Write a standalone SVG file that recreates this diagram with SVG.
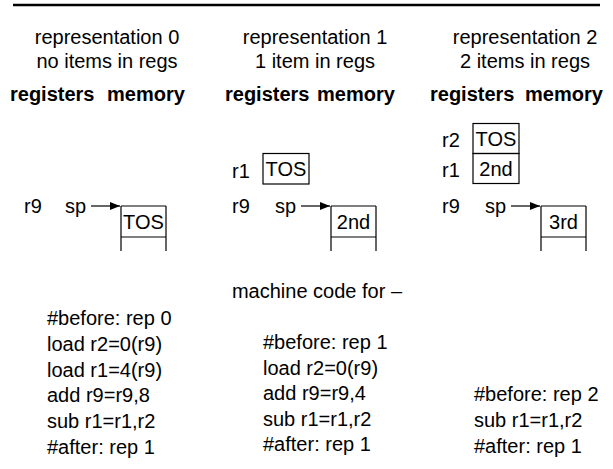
<svg xmlns="http://www.w3.org/2000/svg" width="613" height="469" viewBox="0 0 613 469">
<style>
text{font-family:"Liberation Sans",Arial,sans-serif;font-size:20px;fill:#000}
.b{font-weight:bold}
.m{text-anchor:middle}
.box{fill:none;stroke:#000;stroke-width:1.2}
.ln{stroke:#000;stroke-width:1.2;fill:none}
</style>
<defs>
<marker id="ah" markerWidth="10" markerHeight="8" refX="10" refY="4" orient="auto" markerUnits="userSpaceOnUse">
<path d="M0,0 L10,4 L0,8 Z" fill="#000"/>
</marker>
</defs>
<rect width="613" height="469" fill="#fff"/>
<line x1="13" y1="5" x2="600" y2="5" stroke="#000" stroke-width="2.5"/>

<g id="rep0">
<text class="m" x="107" y="44">representation 0</text>
<text class="m" x="107" y="68">no items in regs</text>
<text class="b" x="10" y="101">registers</text>
<text class="b" x="107" y="101">memory</text>
<text x="24" y="213">r9</text>
<text x="65" y="213">sp</text>
<path class="ln" d="M121,206 H166 M121,206 V251 M166,206 V251 M121,237 H166"/>
<text class="m" x="143.5" y="229">TOS</text>
</g>

<g id="rep1">
<text class="m" x="315" y="44">representation 1</text>
<text class="m" x="315" y="68">1 item in regs</text>
<text class="b" x="225" y="101">registers</text>
<text class="b" x="317" y="101">memory</text>
<text x="232" y="178">r1</text>
<rect class="box" x="263" y="153.5" width="46" height="30.5"/>
<text class="m" x="286" y="176">TOS</text>
<text x="232" y="213">r9</text>
<text x="275" y="213">sp</text>
<path class="ln" d="M331,206 H376 M331,206 V251 M376,206 V251 M331,237 H376"/>
<text class="m" x="353.5" y="229">2nd</text>
</g>

<g id="rep2">
<text class="m" x="525" y="44">representation 2</text>
<text class="m" x="525" y="68">2 items in regs</text>
<text class="b" x="430" y="101">registers</text>
<text class="b" x="525" y="101">memory</text>
<text x="442" y="147">r2</text>
<text x="442" y="177">r1</text>
<rect class="box" x="473" y="123.5" width="46" height="30"/>
<rect class="box" x="473" y="153.5" width="46" height="30"/>
<text class="m" x="496" y="146">TOS</text>
<text class="m" x="496" y="176">2nd</text>
<text x="442" y="213">r9</text>
<text x="485" y="213">sp</text>
<path class="ln" d="M541,206 H586 M541,206 V251 M586,206 V251 M541,237 H586"/>
<text class="m" x="563.5" y="229">3rd</text>
</g>

<g id="connectors">
<line class="ln" x1="91" y1="206" x2="120" y2="206" marker-end="url(#ah)"/>
<line class="ln" x1="301" y1="206" x2="330" y2="206" marker-end="url(#ah)"/>
<line class="ln" x1="511" y1="206" x2="540" y2="206" marker-end="url(#ah)"/>
</g>

<g id="code">
<text class="m" x="317" y="298">machine code for –</text>
<text x="47" y="325">#before: rep 0</text>
<text x="47" y="351">load r2=0(r9)</text>
<text x="47" y="376.5">load r1=4(r9)</text>
<text x="47" y="402">add r9=r9,8</text>
<text x="47" y="428">sub r1=r1,r2</text>
<text x="47" y="453.5">#after: rep 1</text>
<text x="263" y="349">#before: rep 1</text>
<text x="263" y="374.5">load r2=0(r9)</text>
<text x="263" y="400">add r9=r9,4</text>
<text x="263" y="425.5">sub r1=r1,r2</text>
<text x="263" y="451">#after: rep 1</text>
<text x="474" y="401">#before: rep 2</text>
<text x="474" y="427">sub r1=r1,r2</text>
<text x="474" y="452.5">#after: rep 1</text>
</g>
</svg>
